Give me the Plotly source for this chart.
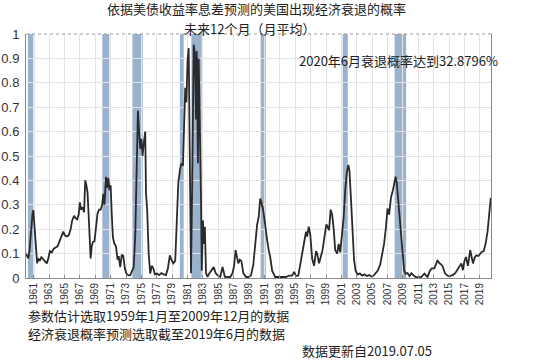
import plotly.graph_objects as go

# decimal year and recession probability
years = [1960.00,1960.15,1960.30,1960.45,1960.65,1960.85,1960.95,1961.10,1961.25,1961.45,1961.60,1961.80,
1962.00,1962.25,1962.50,1962.70,1962.90,1963.10,1963.35,1963.60,1963.85,1964.10,1964.35,1964.55,1964.85,
1965.05,1965.30,1965.55,1965.80,1966.00,1966.25,1966.45,1966.65,1966.85,1967.00,1967.15,1967.35,1967.55,
1967.70,1967.85,1968.00,1968.20,1968.40,1968.55,1968.70,1968.90,1969.10,1969.30,1969.50,1969.70,1969.90,
1970.05,1970.20,1970.40,1970.55,1970.70,1970.85,1971.00,1971.15,1971.30,1971.50,1971.70,1971.90,1972.05,
1972.25,1972.45,1972.65,1972.85,1973.05,1973.30,1973.55,1973.80,1974.00,1974.20,1974.40,1974.55,1974.70,
1974.85,1975.00,1975.15,1975.30,1975.50,1975.60,1975.75,1975.95,1976.15,1976.35,1976.55,1976.75,1977.00,
1977.30,1977.60,1977.90,1978.20,1978.45,1978.70,1978.90,1979.15,1979.40,1979.60,1979.80,1980.00,1980.20,
1980.40,1980.55,1980.70,1980.85,1981.00,1981.15,1981.30,1981.45,1981.60,1981.80,1981.95,1982.10,1982.20,
1982.35,1982.45,1982.60,1982.75,1982.85,1983.00,1983.10,1983.25,1983.40,1983.60,1983.85,1984.10,1984.40,
1984.65,1984.95,1985.25,1985.55,1985.85,1986.20,1986.55,1986.85,1987.05,1987.25,1987.45,1987.60,1987.80,
1988.00,1988.25,1988.60,1988.95,1989.25,1989.55,1989.85,1990.05,1990.25,1990.45,1990.60,1990.80,1991.00,
1991.15,1991.35,1991.55,1991.75,1992.00,1992.40,1992.80,1993.30,1993.80,1994.20,1994.60,1994.85,1995.10,
1995.40,1995.65,1995.95,1996.15,1996.40,1996.55,1996.75,1996.95,1997.20,1997.45,1997.70,1997.85,1998.10,
1998.35,1998.55,1998.80,1999.05,1999.20,1999.40,1999.60,1999.80,2000.00,2000.20,2000.45,2000.65,2000.85,
2001.05,2001.30,2001.50,2001.70,2001.90,2002.05,2002.25,2002.45,2002.65,2002.85,2003.10,2003.40,2003.70,
2004.00,2004.30,2004.60,2004.90,2005.20,2005.50,2005.75,2006.05,2006.30,2006.55,2006.80,2007.00,2007.20,
2007.45,2007.70,2007.90,2008.05,2008.20,2008.35,2008.50,2008.70,2008.90,2009.15,2009.35,2009.60,2009.85,
2010.10,2010.40,2010.70,2011.00,2011.35,2011.80,2012.20,2012.50,2012.75,2013.10,2013.50,2013.75,2014.00,
2014.20,2014.45,2014.80,2015.10,2015.45,2015.75,2016.00,2016.20,2016.60,2016.80,2017.00,2017.20,2017.45,
2017.75,2017.95,2018.10,2018.35,2018.55,2018.80,2019.00,2019.25,2019.50,2019.75,2020.00,2020.15,2020.30,
2020.42]

prob = [0.10,0.09,0.08,0.11,0.20,0.265,0.278,0.22,0.13,0.06,0.08,0.07,
0.085,0.075,0.065,0.06,0.08,0.11,0.105,0.12,0.125,0.13,0.15,0.17,0.19,
0.175,0.17,0.175,0.20,0.235,0.255,0.245,0.24,0.26,0.31,0.28,0.29,0.27,
0.40,0.38,0.35,0.22,0.08,0.13,0.148,0.15,0.21,0.265,0.28,0.28,0.30,
0.345,0.30,0.415,0.37,0.41,0.36,0.38,0.26,0.165,0.14,0.13,0.075,0.09,
0.045,0.095,0.09,0.04,0.018,0.011,0.012,0.03,0.045,0.17,0.50,0.685,0.60,
0.53,0.57,0.50,0.55,0.60,0.35,0.28,0.10,0.018,0.05,0.04,0.015,0.018,
0.012,0.02,0.015,0.012,0.04,0.093,0.075,0.06,0.07,0.23,0.39,0.44,0.47,
0.46,0.675,0.78,0.72,0.89,0.942,0.55,0.02,0.37,0.956,0.92,0.65,0.93,
0.47,0.90,0.65,0.33,0.03,0.237,0.14,0.21,0.02,0.005,0.02,0.03,0.045,
0.02,0.01,0.005,0.045,0.005,0.005,0.004,0.02,0.05,0.114,0.086,0.06,0.075,
0.07,0.02,0.004,0.004,0.01,0.055,0.15,0.22,0.25,0.326,0.31,0.285,0.24,
0.19,0.155,0.114,0.086,0.03,0.004,0.004,0.004,0.004,0.01,0.01,0.025,0.008,
0.01,0.055,0.10,0.15,0.19,0.17,0.21,0.18,0.08,0.05,0.11,0.10,0.06,
0.09,0.114,0.17,0.22,0.21,0.196,0.28,0.26,0.20,0.114,0.10,0.14,0.105,
0.165,0.25,0.36,0.43,0.463,0.44,0.32,0.17,0.073,0.03,0.015,0.018,0.01,
0.015,0.008,0.012,0.006,0.01,0.02,0.032,0.055,0.10,0.14,0.21,0.285,0.26,
0.33,0.36,0.40,0.415,0.39,0.33,0.29,0.21,0.114,0.032,0.018,0.02,0.008,
0.02,0.01,0.003,0.003,0.003,0.018,0.004,0.03,0.039,0.04,0.073,0.06,0.055,
0.045,0.02,0.01,0.008,0.012,0.018,0.03,0.04,0.06,0.032,0.07,0.086,0.05,
0.114,0.08,0.06,0.085,0.093,0.09,0.10,0.107,0.11,0.14,0.19,0.235,0.28,
0.3288]

rec_start = [1960.25, 1969.92, 1973.83, 1980.00, 1981.50, 1990.50, 2001.17, 2007.92]
rec_end   = [1961.08, 1970.83, 1975.17, 1980.50, 1982.83, 1991.17, 2001.83, 2009.42]

tick_years = list(range(1961, 2020, 2))
y_ticks = [0, 0.1, 0.2, 0.3, 0.4, 0.5, 0.6, 0.7, 0.8, 0.9, 1]
y_labels = ["0", "0.1", "0.2", "0.3", "0.4", "0.5", "0.6", "0.7", "0.8", "0.9", "1"]

title1 = "依据美债收益率息差预测的美国出现经济衰退的概率"
title2 = "未来12个月（月平均）"
note = "2020年6月衰退概率达到32.8796%"
foot1 = "参数估计选取1959年1月至2009年12月的数据"
foot2 = "经济衰退概率预测选取截至2019年6月的数据"
foot3 = "数据更新自2019.07.05"

CJK = "Noto Sans CJK SC"
BAND = "rgb(155,178,204)"

fig = go.Figure()
fig.add_trace(go.Scatter(x=years, y=prob, mode="lines",
                         line=dict(color="#2a2a2a", width=1.8),
                         hoverinfo="skip", showlegend=False))

shapes = []
for s, e in zip(rec_start, rec_end):
    shapes.append(dict(type="rect", xref="x", yref="y", x0=s, x1=e, y0=0, y1=1,
                       fillcolor=BAND, line=dict(width=0), layer="below"))
shapes.append(dict(type="line", xref="paper", yref="paper", x0=0, x1=1, y0=1, y1=1,
                   line=dict(color="#999999", width=1, dash="dot")))

fig.update_layout(
    width=550, height=360,
    margin=dict(l=26, r=59, t=34, b=82, autoexpand=False),
    paper_bgcolor="white", plot_bgcolor="white",
    shapes=shapes,
    xaxis=dict(range=[1960.0, 2020.45], tickmode="array", tickvals=tick_years,
               ticktext=[str(y) for y in tick_years], tickangle=-90, automargin=False,
               tickfont=dict(family="Liberation Sans", size=10, color="#333333"),
               showgrid=True, gridcolor="#e3e3e3", gridwidth=1,
               showline=True, linecolor="#8a8a8a", linewidth=1,
               ticks="inside", ticklen=3, tickcolor="#8a8a8a", zeroline=False),
    yaxis=dict(range=[0, 1], tickmode="array", tickvals=y_ticks, ticktext=y_labels,
               automargin=False,
               tickfont=dict(family="Liberation Sans", size=13, color="#333333"),
               showgrid=True, gridcolor="#e3e3e3", gridwidth=1,
               showline=True, linecolor="#8a8a8a", linewidth=1, mirror=True,
               ticks="", zeroline=False, ticklabelstandoff=3),
    font=dict(family=CJK, color="#222222"),
)

ann = [
    dict(text=title1, x=0.496, y=9, size=13),
    dict(text=title2, x=0.480, y=28, size=13),
]
for a in ann:
    fig.add_annotation(text=a["text"], xref="paper", yref="paper", x=a["x"],
                       y=(278 - a["y"]) / 244, xanchor="center", yanchor="middle",
                       showarrow=False, font=dict(family=CJK, size=a["size"], color="#222222"))

fig.add_annotation(text=note, xref="paper", yref="paper", x=(297 - 26) / 465,
                   y=(278 - 60) / 244, xanchor="left", yanchor="middle", showarrow=False,
                   font=dict(family=CJK, size=13, color="#222222"))
fig.add_annotation(text=foot1, xref="paper", yref="paper", x=0, y=(278 - 315) / 244,
                   xanchor="left", yanchor="middle", showarrow=False,
                   font=dict(family=CJK, size=13, color="#222222"))
fig.add_annotation(text=foot2, xref="paper", yref="paper", x=0, y=(278 - 333) / 244,
                   xanchor="left", yanchor="middle", showarrow=False,
                   font=dict(family=CJK, size=13, color="#222222"))
fig.add_annotation(text=foot3, xref="paper", yref="paper", x=(300 - 26) / 465,
                   y=(278 - 350) / 244, xanchor="left", yanchor="middle", showarrow=False,
                   font=dict(family=CJK, size=13, color="#222222"))

fig.write_html("out.html", config={"displayModeBar": False},
               post_script="document.body.style.margin='0';document.body.style.padding='0';")
